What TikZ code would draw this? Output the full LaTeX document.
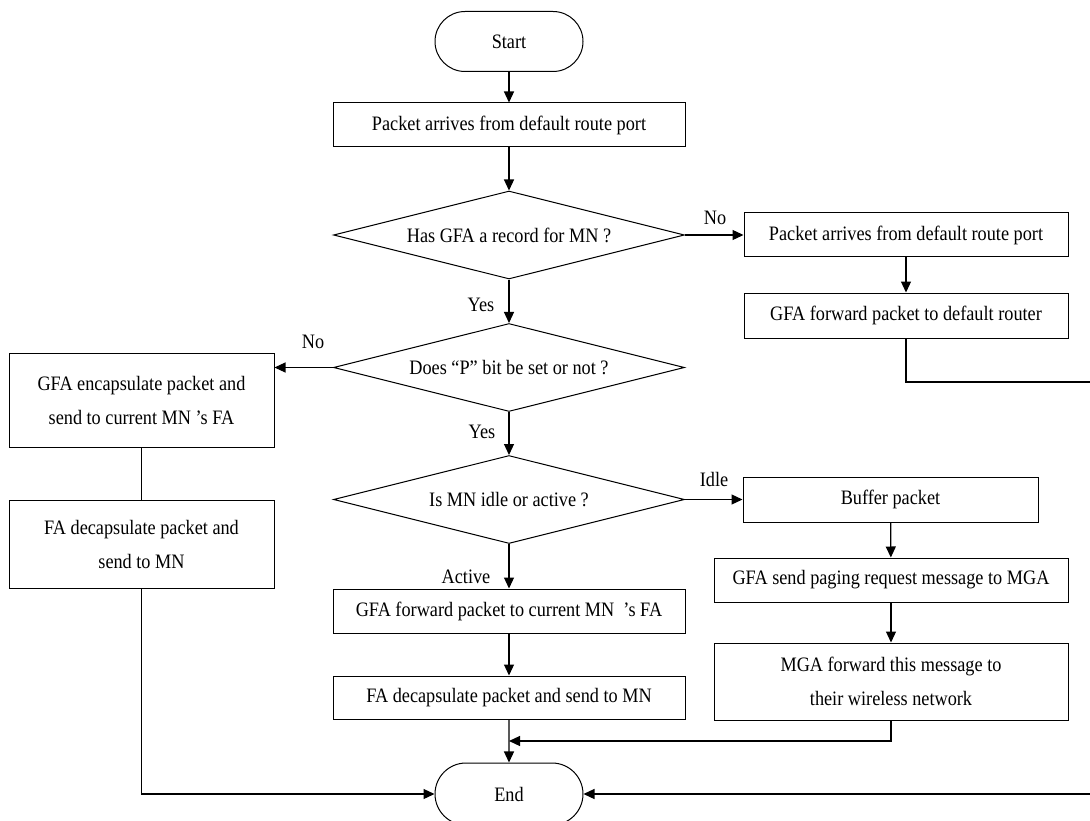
\documentclass[tikz,border=0pt]{standalone}
\usepackage{fontspec}
\setmainfont{Liberation Serif}[FakeStretch=0.89]
\usetikzlibrary{shapes.geometric,shapes.misc,arrows.meta}

\begin{document}
\begin{tikzpicture}[x=1pt,y=-1pt,
  every node/.style={font=\fontsize{20.5}{34}\selectfont, inner sep=0pt},
  proc/.style={draw, line width=1pt, rectangle, align=center},
  term/.style={draw, line width=1pt, rounded rectangle, minimum width=148pt, minimum height=60pt},
  decide/.style={draw, line width=1pt, diamond, minimum width=351pt, minimum height=88pt},
  flow/.style={line width=1.2pt, -{Triangle[length=11pt,width=10pt]}},
  link/.style={line width=1.2pt},
  lbl/.style={font=\fontsize{20.5}{24}\selectfont}]
\useasboundingbox[fill=white] (0,0) rectangle (1090,821);

% main column
\node[term] (start) at (509,41.5) {Start};
\node[proc, minimum width=352pt, minimum height=44pt] (recv) at (509,125) {Packet arrives from default route port};
\node[decide, label=center:{Has GFA a record for MN ?}] (hasrec) at (509,235) {};
\node[decide, label=center:{Does “P” bit be set or not ?}] (pbit) at (509,367.5) {};
\node[decide, label=center:{Is MN idle or active ?}] (idle) at (509,499.5) {};
\node[proc, minimum width=352pt, minimum height=44pt] (fwdfa) at (509,611) {GFA forward packet to current MN\ \ ’s FA};
\node[proc, minimum width=352pt, minimum height=43pt] (decmid) at (509,697.5) {FA decapsulate packet and send to MN};
\node[term, minimum height=62pt] (finish) at (509,794) {End};

% right column, no record
\node[proc, minimum width=324pt, minimum height=44pt] (recv2) at (906,235) {Packet arrives from default route port};
\node[proc, minimum width=324pt, minimum height=45pt] (defrt) at (906,315.5) {GFA forward packet to default router};

% left column, P bit not set
\node[proc, minimum width=265pt, minimum height=94pt] (encap) at (141.5,400) {GFA encapsulate packet and\\ send to current MN ’s FA};
\node[proc, minimum width=265pt, minimum height=88pt] (decleft) at (141.5,544) {FA decapsulate packet and\\ send to MN};

% right column, idle MN
\node[proc, minimum width=295pt, minimum height=45pt] (buffer) at (890.5,499.5) {Buffer packet};
\node[proc, minimum width=354pt, minimum height=44pt] (paging) at (891,580) {GFA send paging request message to MGA};
\node[proc, minimum width=354pt, minimum height=77pt] (mga) at (891,681.5) {MGA forward this message to\\ their wireless network};

% branch labels
\node[lbl] (lno1) at (715,218) {No};
\node[lbl] (lyes1) at (481,305) {Yes};
\node[lbl] (lno2) at (313,342) {No};
\node[lbl] (lyes2) at (482,432) {Yes};
\node[lbl] (lidle) at (714,479) {Idle};
\node[lbl] (lact) at (466,577) {Active};

% helper points
\coordinate (offright) at (1100,382);
\coordinate (join) at (509,741);

% connectors
\draw[flow] (start) -- (recv);
\draw[flow] (recv) -- (hasrec);
\draw[flow] (hasrec.east) -- (recv2.west);
\draw[flow] (recv2) -- (defrt);
\draw[flow] (defrt.south) |- (offright) |- (finish.east);
\draw[flow] (hasrec) -- (pbit);
\draw[flow] (pbit.west) -- (pbit.west -| encap.east);
\draw[link] (encap) -- (decleft);
\draw[flow] (decleft.south) |- (finish.west);
\draw[flow] (pbit) -- (idle);
\draw[flow] (idle.east) -- (idle.east -| buffer.west);
\draw[flow] (buffer) -- (paging);
\draw[flow] (paging) -- (mga);
\draw[flow] (mga.south) |- (join);
\draw[flow] (idle) -- (fwdfa);
\draw[flow] (fwdfa) -- (decmid);
\draw[flow] (decmid) -- (finish);
\end{tikzpicture}
\end{document}
